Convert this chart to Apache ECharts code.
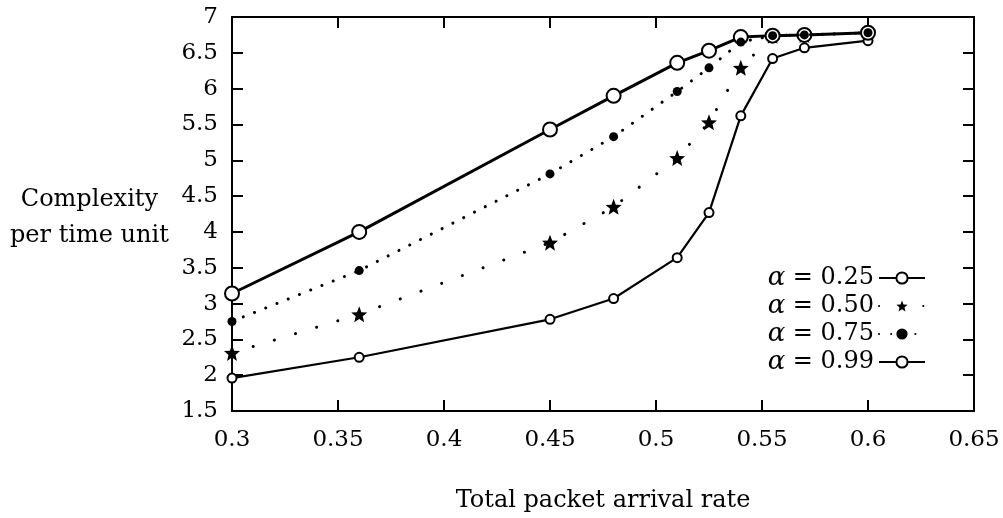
<!DOCTYPE html>
<html>
<head>
<meta charset="utf-8">
<script src="https://cdn.jsdelivr.net/npm/echarts@6/dist/echarts.min.js"></script>
<style>
html,body{margin:0;padding:0;background:#fff;}
#c{width:1003px;height:518px;}
</style>
</head>
<body>
<div id="c"></div>
<script>
const arrivalRates = [0.3, 0.36, 0.45, 0.48, 0.51, 0.525, 0.54, 0.555, 0.57, 0.6];
const alpha025 = [1.96, 2.25, 2.78, 3.07, 3.64, 4.27, 5.62, 6.42, 6.57, 6.67];
const alpha050 = [2.31, 2.85, 3.85, 4.35, 5.03, 5.53, 6.29, 6.74, 6.75, 6.78];
const alpha075 = [2.75, 3.46, 4.81, 5.33, 5.96, 6.29, 6.65, 6.74, 6.75, 6.78];
const alpha099 = [3.14, 4.00, 5.43, 5.90, 6.36, 6.53, 6.72, 6.74, 6.75, 6.78];
const seriesNames = ['α = 0.25', 'α = 0.50', 'α = 0.75', 'α = 0.99'];
const xTitle = 'Total packet arrival rate';
const yTitle = 'Complexity\nper time unit';

const FONT = 'DejaVu Serif';
const pair = arr => arrivalRates.map((x, i) => [x, arr[i]]);
const star = 'path://M0,-10 L2.6,-3.4 9.5,-3.1 4.2,1.3 5.9,8.1 0,4.3 -5.9,8.1 -4.2,1.3 -9.5,-3.1 -2.6,-3.4 Z';

const chart = echarts.init(document.getElementById('c'), null, {renderer: 'canvas'});
const axisCommon = {
  axisLine: {show: true, lineStyle: {color: '#000', width: 2}},
  axisTick: {show: true, inside: true, length: 11, lineStyle: {color: '#000', width: 2}},
  splitLine: {show: false}
};
const labelStyle = {color: '#000', fontFamily: FONT, fontSize: 23};

chart.setOption({
  animation: false,
  backgroundColor: '#fff',
  grid: {left: 232, right: 29, top: 17, bottom: 105},
  legend: {
    orient: 'vertical',
    right: 72, top: 260,
    align: 'right',
    itemGap: 2,
    itemWidth: 46, itemHeight: 14,
    itemTextGap: 9,
    data: seriesNames,
    formatter: n => '{a|α} = ' + n.split('= ')[1],
    textStyle: {color: '#000', fontFamily: FONT, fontSize: 24, lineHeight: 26,
      rich: {a: {fontFamily: FONT, fontStyle: 'italic', fontSize: 26, color: '#000'}}}
  },
  graphic: [{
    type: 'text', left: 10, top: 182,
    style: {text: yTitle, fill: '#000', font: '24px "' + FONT + '"', textAlign: 'center', lineHeight: 36, x: 85}
  }],
  xAxis: [
    Object.assign({type: 'value', min: 0.3, max: 0.65, interval: 0.05,
      name: xTitle, nameLocation: 'middle', nameGap: 78,
      nameTextStyle: {color: '#000', fontFamily: FONT, fontSize: 24},
      axisLabel: Object.assign({margin: 18}, labelStyle)}, axisCommon),
    Object.assign({type: 'value', position: 'top', min: 0.3, max: 0.65, interval: 0.05,
      axisLabel: {show: false}}, axisCommon)
  ],
  yAxis: [
    Object.assign({type: 'value', min: 1.5, max: 7, interval: 0.5,
      axisLabel: Object.assign({margin: 14}, labelStyle)}, axisCommon),
    Object.assign({type: 'value', position: 'right', min: 1.5, max: 7, interval: 0.5,
      axisLabel: {show: false}}, axisCommon)
  ],
  series: [
    {name: seriesNames[0], type: 'line', data: pair(alpha025), z: 2,
      symbol: 'emptyCircle', symbolSize: 9, color: '#000',
      lineStyle: {color: '#000', width: 2.2},
      itemStyle: {color: '#000', borderWidth: 2}},
    {name: seriesNames[1], type: 'line', data: pair(alpha050), z: 3,
      symbol: star, symbolSize: 16, color: '#000',
      lineStyle: {color: '#000', width: 3, type: [0.1, 22], cap: 'round'},
      itemStyle: {color: '#000'}},
    {name: seriesNames[2], type: 'line', data: pair(alpha075), z: 5,
      symbol: 'circle', symbolSize: 9, color: '#000',
      lineStyle: {color: '#000', width: 3, type: [0.1, 12], cap: 'round'},
      itemStyle: {color: '#000'}},
    {name: seriesNames[3], type: 'line', data: pair(alpha099), z: 4,
      symbol: 'emptyCircle', symbolSize: 14, color: '#000',
      lineStyle: {color: '#000', width: 3},
      itemStyle: {color: '#000', borderWidth: 2}}
  ]
});
</script>
</body>
</html>
